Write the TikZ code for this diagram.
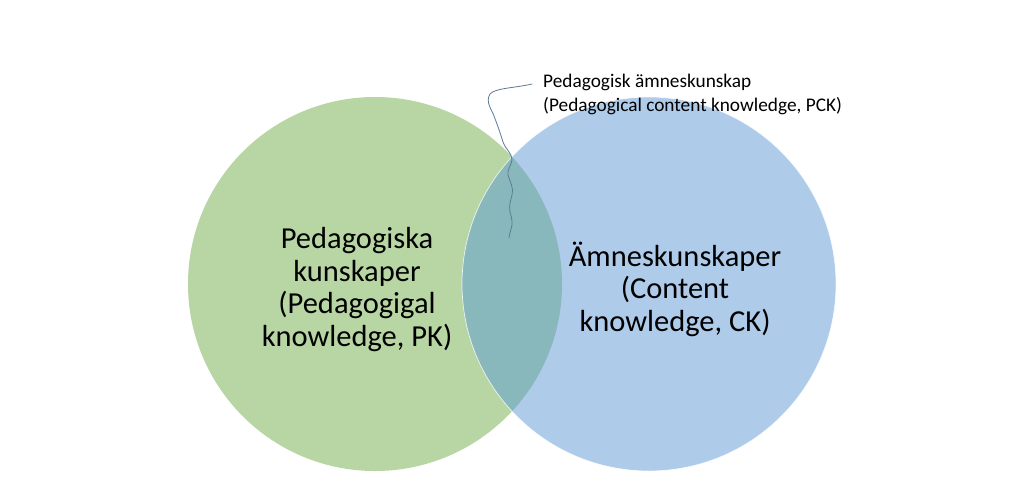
\documentclass[tikz,border=0pt]{standalone}
\usepackage{fontspec}
\setmainfont{Carlito}
\definecolor{pkgreen}{HTML}{B7D6A4}
\definecolor{ckblue}{HTML}{AECBEA}
\definecolor{overlapc}{HTML}{89B8BC}
\definecolor{wavec}{HTML}{5F7A95}
\begin{document}
\begin{tikzpicture}[x=1pt,y=-1pt,
  bigtext/.style={align=center, inner sep=0pt, font=\fontsize{30.5}{32.5}\selectfont, text=black},
  smalltext/.style={align=left, inner sep=0pt, font=\fontsize{19.3}{23.5}\selectfont, text=black},
  venn/.style={circle, minimum size=374pt, inner sep=0pt, outer sep=0pt}]
\useasboundingbox[fill=white] (0,0) rectangle (1024,499);
\node[venn, fill=pkgreen] (pk) at (375,284) {};
\node[venn, fill=ckblue] (ck) at (649,284) {};
\begin{scope}
  \clip (375,284) circle[radius=187pt];
  \fill[overlapc] (649,284) circle[radius=187pt];
\end{scope}
\draw[white, line width=0.7pt, opacity=0.8] (649,284) circle[radius=187pt];
\node[bigtext, anchor=base] (pktext) at (357,346) {Pedagogiska\\kunskaper\\(Pedagogigal\\knowledge, PK)};
\node[bigtext, anchor=base] (cktext) at (675,331) {Ämneskunskaper\\(Content\\knowledge, CK)};
\node[smalltext, anchor=base west] (pck) at (543,111) {Pedagogisk ämneskunskap\\(Pedagogical content knowledge, PCK)};
\coordinate (wstart) at (532,84);
\coordinate (wtip) at (509,238);
\draw[wavec, line width=0.8pt, line cap=round] (wstart) .. controls (515,88) and (495,88) .. (490,94)
  .. controls (485,102) and (492,110) .. (494,116)
  .. controls (497,124) and (500,132) .. (503,142)
  .. controls (506,150) and (512,153) .. (512,160)
  .. controls (511,166) and (507,170) .. (508,175)
  .. controls (510,182) and (514,188) .. (512,195)
  .. controls (510,202) and (509,206) .. (510,212)
  .. controls (512,218) and (513,224) .. (511,229)
  .. controls (510,233) and (509,236) .. (wtip);
\end{tikzpicture}
\end{document}
